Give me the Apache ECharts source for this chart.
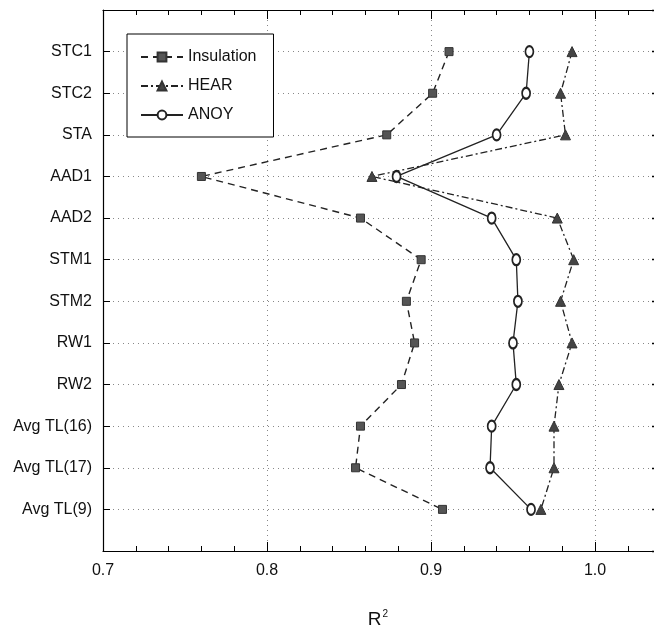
<!DOCTYPE html>
<html>
<head>
<meta charset="utf-8">
<script src="https://cdn.jsdelivr.net/npm/echarts@6/dist/echarts.min.js"></script>
<style>
html,body{margin:0;padding:0;background:#fff;}
#c{width:654px;height:631px;}
</style>
</head>
<body>
<div id="c"></div>
<script>
const categories = ['STC1','STC2','STA','AAD1','AAD2','STM1','STM2','RW1','RW2','Avg TL(16)','Avg TL(17)','Avg TL(9)'];
const insulation = [0.911,0.901,0.873,0.760,0.857,0.894,0.885,0.890,0.882,0.857,0.854,0.907];
const hear = [0.986,0.979,0.982,0.864,0.977,0.987,0.979,0.986,0.978,0.975,0.975,0.967];
const anoy = [0.960,0.958,0.940,0.879,0.937,0.952,0.953,0.950,0.952,0.937,0.936,0.961];
const xTicks = [0.7,0.8,0.9,1.0];

const FONT = "'Liberation Sans',Arial,sans-serif";
const pairs = arr => arr.map((v,i)=>[v,i+1]);

const chart = echarts.init(document.getElementById('c'), null, {renderer:'canvas'});
const xCommon = {
  type:'value', min:0.7, max:1.1, interval:0.1,
  axisLine:{show:true, onZero:false, lineStyle:{color:'#000', width:1.2}},
  axisTick:{show:true, inside:true, length:9, lineStyle:{color:'#000'}},
  minorTick:{show:true, splitNumber:5, length:5, lineStyle:{color:'#000'}},
};
chart.setOption({
  animation:false,
  backgroundColor:'#fff',
  grid:{left:103, top:10, width:656, height:541, containLabel:false, outerBoundsMode:'none'},
  xAxis:[
    Object.assign({}, xCommon, {
      position:'bottom',
      axisLabel:{show:true, margin:12, color:'#111', fontFamily:FONT, fontSize:16,
        formatter: v => xTicks.some(t=>Math.abs(t-v)<1e-6) ? v.toFixed(1) : ''},
      splitLine:{show:true, lineStyle:{color:'#888', type:[1,4], width:1}}
    }),
    Object.assign({}, xCommon, {
      position:'top',
      axisLabel:{show:false},
      splitLine:{show:false}
    })
  ],
  yAxis:[
    {type:'value', min:0, max:13, interval:1, inverse:true, position:'left',
     axisLine:{show:true, onZero:false, lineStyle:{color:'#000', width:1.2}},
     axisTick:{show:true, inside:true, length:7, lineStyle:{color:'#000'}},
     axisLabel:{show:true, margin:11, color:'#111', fontFamily:FONT, fontSize:16,
       formatter: v => categories[v-1] || ''},
     splitLine:{show:true, lineStyle:{color:'#888', type:[1,4], width:1}}
    },
    {type:'value', min:0, max:13, interval:1, inverse:true, position:'right', offset:-96,
     axisLine:{show:true, onZero:false, lineStyle:{color:'#000', width:1.2}},
     axisTick:{show:true, inside:true, length:11, lineStyle:{color:'#000', width:1.3}},
     axisLabel:{show:false}, splitLine:{show:false}
    }
  ],
  graphic:[{
    type:'text', x:378, y:620, z:10,
    style:{
      text:'{r|R}{s|2}', align:'center', verticalAlign:'middle',
      rich:{
        r:{fontFamily:FONT, fontSize:19, fill:'#111', color:'#111'},
        s:{fontFamily:FONT, fontSize:10, fill:'#111', color:'#111', padding:[0,0,12,1]}
      }
    }
  }],
  legend:{
    show:true, orient:'vertical', left:127, top:34,
    padding:[14,17,13,13], itemGap:11, itemWidth:42, itemHeight:11,
    borderColor:'#000', borderWidth:1, backgroundColor:'#fff',
    textStyle:{fontFamily:FONT, fontSize:16, color:'#111', lineHeight:18},
    data:['Insulation','HEAR','ANOY']
  },
  series:[
    {name:'Insulation', type:'line', data:pairs(insulation), xAxisIndex:0, yAxisIndex:0,
     symbol:'rect', symbolSize:8,
     itemStyle:{color:'#555', borderColor:'#333', borderWidth:1},
     lineStyle:{color:'#222', width:1.4, type:[7,5]}, z:3},
    {name:'HEAR', type:'line', data:pairs(hear), xAxisIndex:0, yAxisIndex:0,
     symbol:'triangle', symbolSize:[10,10],
     itemStyle:{color:'#444', borderColor:'#333', borderWidth:1},
     lineStyle:{color:'#222', width:1.3, type:[7,3,2,3]}, z:3},
    {name:'ANOY', type:'line', data:pairs(anoy), xAxisIndex:0, yAxisIndex:0,
     symbol:'emptyCircle', symbolSize:[8,11],
     itemStyle:{color:'#222', borderWidth:1.2},
     lineStyle:{color:'#222', width:1.3, type:'solid'}, z:4}
  ]
});
</script>
</body>
</html>
